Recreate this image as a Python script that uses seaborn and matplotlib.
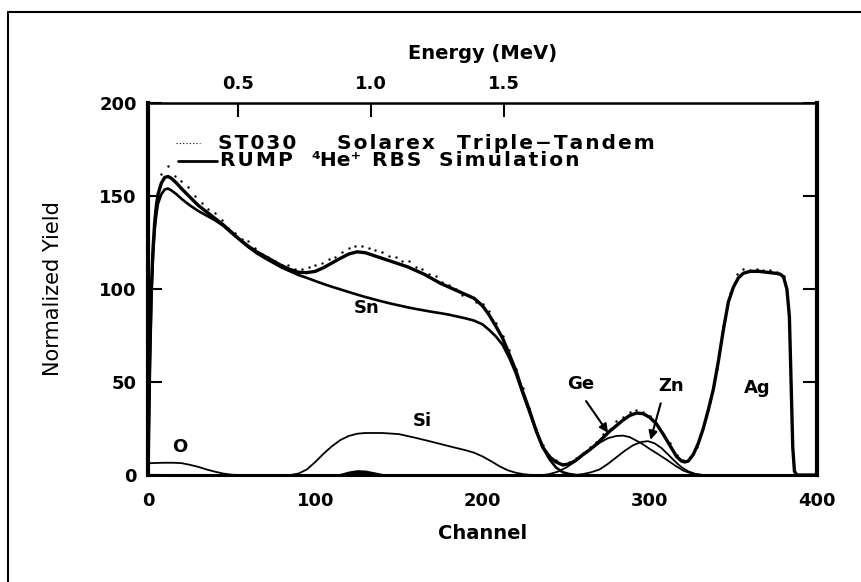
import numpy as np
import pandas as pd
import matplotlib
matplotlib.use("Agg")
import matplotlib.pyplot as plt
from matplotlib.lines import Line2D
import seaborn as sns

# RUMP simulation, total spectrum
total_ch = [0, 1, 2, 3, 4, 5, 6, 8, 10, 12, 14, 17, 20, 25, 30, 35, 40, 45, 50, 55,
            60, 65, 70, 75, 80, 85, 90, 95, 100, 105, 110, 115, 120, 125, 130, 135,
            140, 145, 150, 155, 160, 165, 170, 175, 180, 185, 190, 195, 200, 204,
            208, 212, 216, 220, 224, 228, 232, 236, 240, 244, 248, 252, 256, 260,
            264, 268, 272, 276, 280, 284, 288, 292, 296, 300, 304, 308, 312, 316,
            319, 321, 323, 326, 329, 332, 335, 338, 341, 344, 347, 350, 353, 356,
            360, 365, 370, 375, 378, 380, 382, 383.5, 384.5, 385.5, 386.5, 388, 400]
total_y = [0, 60, 100, 122, 136, 145, 151, 157, 160, 160.5, 159.5, 157, 154, 149.5,
           145, 141.5, 138, 134.5, 130.5, 126.5, 123, 120, 117.5, 115, 112.5, 110.5,
           109, 108.8, 109.5, 111.5, 114, 116.5, 118.8, 120, 119.5, 118, 116.5, 115,
           113.5, 112, 110, 108, 105.5, 103, 101, 99, 97, 95, 91, 86, 80, 73.6, 65,
           56, 45, 35, 24, 15, 9.8, 7, 5.4, 6, 8, 11, 13.5, 16.5, 20, 23.5, 26.5,
           29.5, 32, 33.3, 33, 31, 27.5, 22, 16, 10, 7.5, 7, 7.5, 11, 17, 25, 35,
           46, 61, 78, 93, 101, 106, 108.5, 109.5, 109.5, 109, 108.5, 108, 106.5,
           100, 85, 50, 15, 2, 0, 0]

# element contributions
sn_ch = [0, 1, 2, 3, 4, 5, 6, 8, 10, 12, 14, 17, 20, 25, 30, 35, 40, 45, 50, 55, 60,
         65, 70, 75, 80, 85, 90, 95, 100, 105, 110, 115, 120, 125, 130, 135, 140,
         145, 150, 155, 160, 165, 170, 175, 180, 185, 190, 195, 200, 204, 208, 212,
         216, 220, 224, 228, 232, 236, 240, 244, 248, 252, 256]
sn_y = [0, 55, 95, 118, 132, 140, 146, 151, 153.5, 154, 153, 151, 148.5, 145, 142,
        139.5, 137, 134, 130, 126.3, 122.5, 119.2, 116.5, 114, 111.5, 109.5, 107.5,
        106, 104.3, 102.7, 101.2, 99.8, 98.4, 97, 95.7, 94.5, 93.3, 92.2, 91.2,
        90.2, 89.3, 88.5, 87.7, 87, 86.2, 85.2, 84.2, 83, 81, 78, 74.5, 70, 63,
        54.5, 44, 34, 24, 15, 8.5, 4, 1.5, 0.5, 0]

si_ch = [85, 90, 95, 100, 105, 110, 115, 120, 125, 130, 140, 150, 160, 170, 180,
         190, 195, 200, 205, 210, 215, 220, 225, 230]
si_y = [0, 0.8, 3, 7, 11.5, 15.5, 18.8, 21, 22.2, 22.6, 22.6, 22, 20, 17.8, 15.5,
        13.3, 12, 10, 7.5, 4.8, 2.6, 1.2, 0.4, 0]

o_ch = [0, 5, 10, 15, 20, 25, 30, 35, 40, 45, 50, 55]
o_y = [6.3, 6.5, 6.6, 6.6, 6.4, 5.5, 4.4, 3, 1.8, 0.8, 0.2, 0]

c_ch = [112, 116, 120, 125, 130, 135, 140, 144]
c_y = [0, 0.8, 1.8, 2.5, 2.3, 1.4, 0.5, 0]

ge_ch = [236, 240, 245, 250, 255, 260, 265, 270, 275, 280, 284, 288, 292, 296,
         300, 305, 310, 315, 320, 325, 330]
ge_y = [0, 0.5, 1.8, 4, 7, 10.5, 14, 17.3, 19.8, 21, 21.2, 20.4, 18.5, 16.5, 14,
        11.2, 8.3, 5.2, 2.4, 0.8, 0]

zn_ch = [255, 260, 265, 270, 275, 280, 285, 290, 295, 299, 303, 307, 311, 315,
         319, 323, 327, 332]
zn_y = [0, 0.5, 1.5, 3, 6, 9.5, 13, 16, 17.8, 18.2, 17, 14.5, 11, 7.4, 4.2, 2,
        0.7, 0]

# ST030 measured spectrum
exp_ch = list(range(4, 392, 4))
exp_y = [142, 162, 166, 161, 158, 155, 150, 146, 143, 141, 137, 133, 130, 127, 126,
         122, 119, 117, 115, 113, 113, 111, 111, 112, 113, 114, 116, 117, 120, 122,
         123, 123, 122, 121, 120, 118, 117, 115, 115, 112, 111, 108, 107, 104, 102,
         100, 97, 96, 93, 92, 88, 82, 75, 67, 57, 47, 36, 25, 16, 11, 8, 6, 7, 9,
         12, 15, 18, 22, 25, 29, 31, 34, 35, 34, 32, 28, 22, 17, 11, 8, 9, 15, 26,
         39, 57, 80, 98, 108, 111, 110, 111, 110, 110, 109, 107, 60, 0]

energy_ticks = [0.5, 1.0, 1.5]

sns.set_style("white")
plt.rcParams['font.family'] = ['DejaVu Sans']
plt.rcParams.update({"text.color": "black", "axes.labelcolor": "black",
                     "xtick.color": "black", "ytick.color": "black"})


def spaced(word):
    # the scanned lettering is wide, open it up a little with hair spaces
    return "\u200a".join(word)


fig = plt.figure(figsize=(8.62, 5.82), dpi=100)
ax = fig.add_axes([0.1717, 0.1838, 0.7761, 0.6392])

sns.scatterplot(x=exp_ch, y=exp_y, ax=ax, color="black", s=3, linewidth=0, marker="o")
sns.lineplot(x=total_ch, y=total_y, ax=ax, color="black", lw=2.4, sort=False)
sns.lineplot(x=sn_ch, y=sn_y, ax=ax, color="black", lw=1.9, sort=False)
for xs, ys in [(si_ch, si_y), (o_ch, o_y), (ge_ch, ge_y), (zn_ch, zn_y)]:
    sns.lineplot(x=xs, y=ys, ax=ax, color="black", lw=1.3, sort=False)
ax.fill_between(c_ch, c_y, color="black")

ax.set_xlim(0, 400)
ax.set_ylim(0, 200)
ax.set_xticks([0, 100, 200, 300, 400])
ax.set_yticks([0, 50, 100, 150, 200])
ax.tick_params(axis="x", direction="out", length=8, width=1.5, labelsize=13, pad=4,
               colors="black")
ax.tick_params(axis="y", direction="in", length=10, width=1.5, labelsize=13,
               right=True, left=True, pad=8, colors="black")
for lab in ax.get_xticklabels() + ax.get_yticklabels():
    lab.set_fontweight("bold")
ax.spines["left"].set_linewidth(3)
ax.spines["right"].set_linewidth(3)
ax.spines["top"].set_linewidth(1.8)
ax.spines["bottom"].set_linewidth(2.2)
for s in ax.spines.values():
    s.set_color("black")

ax.set_xlabel("Channel", fontsize=14, fontweight="bold", labelpad=10)
ax.set_ylabel("Normalized Yield", fontsize=15, labelpad=26)

# top energy axis
sec = ax.secondary_xaxis("top", functions=(lambda c: 0.16 + 0.0063 * c,
                                           lambda e: (e - 0.16) / 0.0063))
sec.set_xticks(energy_ticks)
sec.set_xticklabels(["0.5", "1.0", "1.5"])
sec.tick_params(direction="in", length=10, width=1.5, labelsize=13, pad=7,
                colors="black")
for lab in sec.get_xticklabels():
    lab.set_fontweight("bold")
sec.spines["top"].set_visible(False)
sec.set_xlabel("Energy (MeV)", fontsize=14, fontweight="bold", labelpad=12)

# legend
tkw = dict(fontsize=14.5, fontweight="bold", va="center", ha="left")
ax.plot([17, 31], [178.5, 178.5], ls=(0, (1, 2)), color="black", lw=0.8)
ax.plot([18, 41], [169, 169], color="black", lw=2)
ax.text(42, 178.5, spaced("ST030"), **tkw)
ax.text(113, 178.5, spaced("Solarex"), **tkw)
ax.text(185, 178.5, spaced("Triple\u2212Tandem"), **tkw)
ax.text(43, 169, spaced("RUMP"), **tkw)
ax.text(98, 169, "\u2074He\u207a", **tkw)
ax.text(134, 169, spaced("RBS"), **tkw)
ax.text(174, 169, spaced("Simulation"), **tkw)

# element labels
lkw = dict(fontsize=13, fontweight="bold", ha="center", va="center")
ax.text(131, 90, "Sn", **lkw)
ax.text(164, 29, "Si", **lkw)
ax.text(19, 15, "O", **lkw)
ax.text(259, 49, "Ge", **lkw)
ax.text(313, 48, "Zn", **lkw)
ax.text(364, 47, "Ag", **lkw)
akw = dict(arrowstyle="-|>,head_length=0.5,head_width=0.25", color="black", lw=1.5)
ax.annotate("", xy=(276, 21.5), xytext=(261, 41), arrowprops=akw)
ax.annotate("", xy=(300, 17.5), xytext=(307, 40), arrowprops=akw)

# scanned page border
fig.add_artist(Line2D([0.0093, 1.0], [0.979, 0.979], color="black", lw=1.5))
fig.add_artist(Line2D([0.0093, 0.0093], [0.0, 0.979], color="black", lw=1.5))

fig.savefig("out.png", dpi=100)
